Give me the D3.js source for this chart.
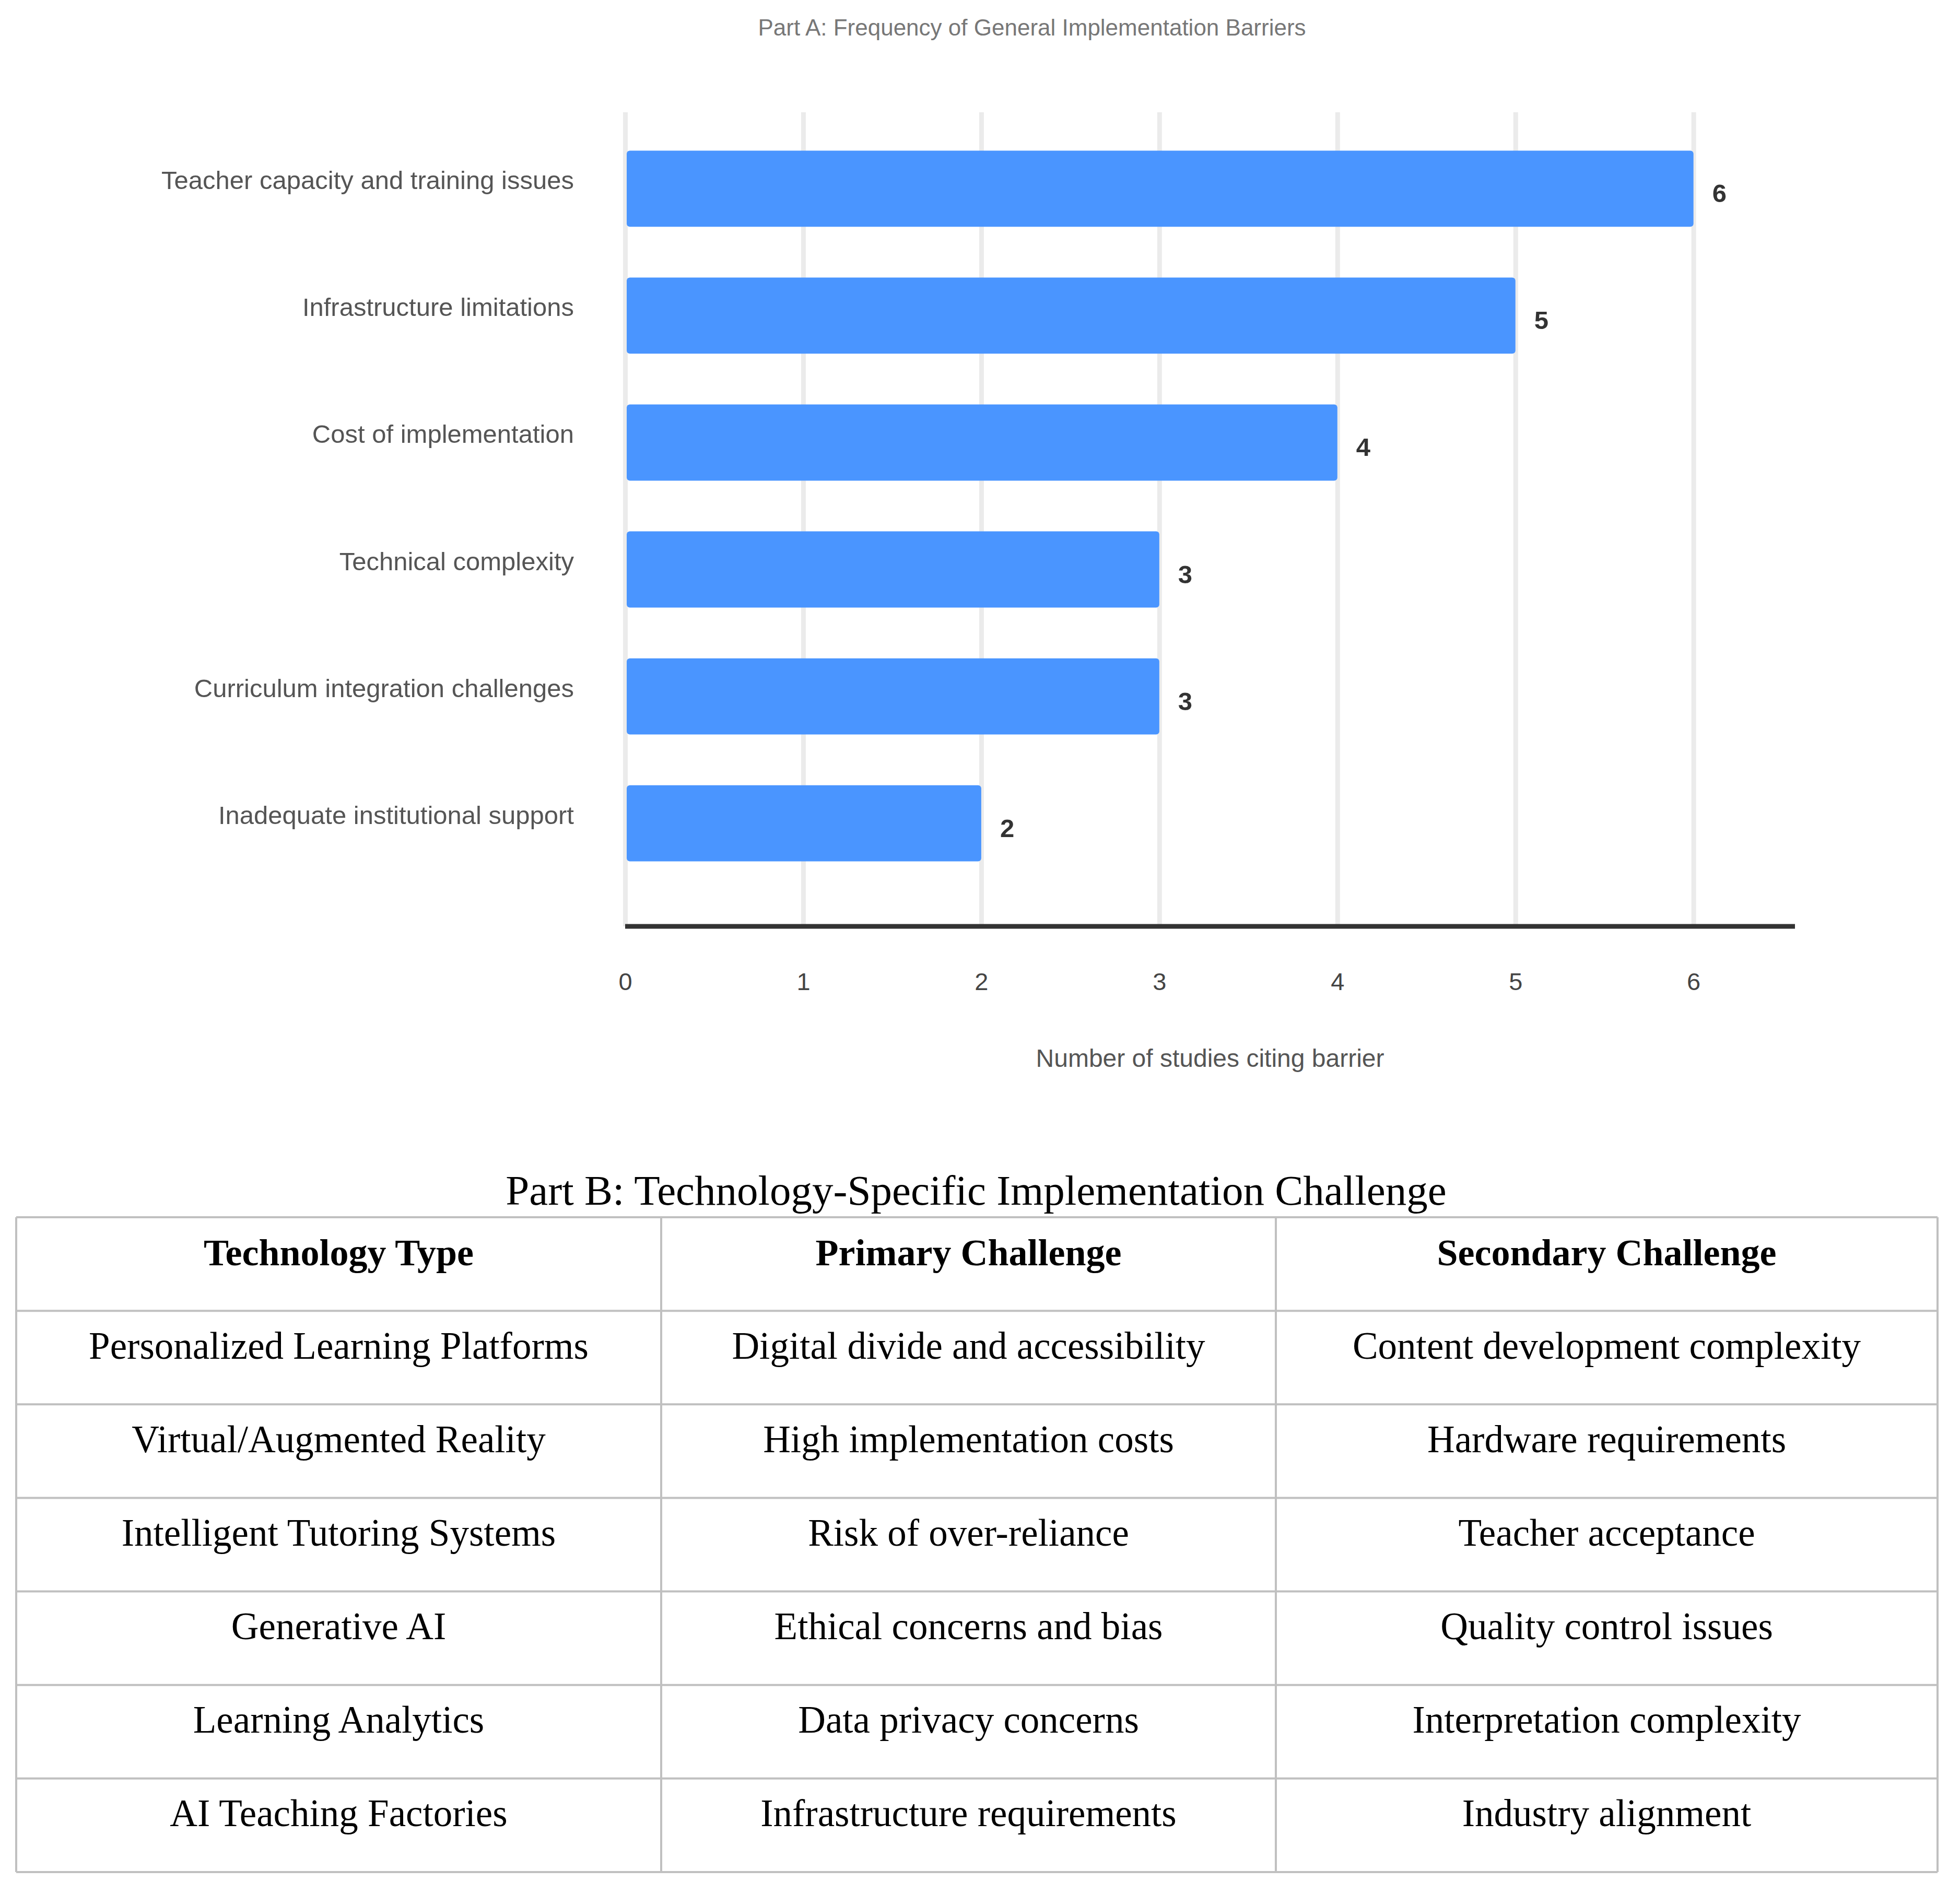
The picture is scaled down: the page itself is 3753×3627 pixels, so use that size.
<!DOCTYPE html>
<html>
<head>
<meta charset="utf-8">
<script src="https://cdn.jsdelivr.net/npm/d3@7"></script>
<style>
  html, body { margin: 0; padding: 0; background: #ffffff; }
  svg { display: block; }
</style>
</head>
<body>
<script>
// ---------- DATA ----------
const barrierCategories = [
  "Teacher capacity and training issues",
  "Infrastructure limitations",
  "Cost of implementation",
  "Technical complexity",
  "Curriculum integration challenges",
  "Inadequate institutional support"
];
const barrierCounts = [6, 5, 4, 3, 3, 2];
const xTickValues = [0, 1, 2, 3, 4, 5, 6];

const chartTitle = "Part A: Frequency of General Implementation Barriers";
const xAxisTitle = "Number of studies citing barrier";

const tableTitle = "Part B: Technology-Specific Implementation Challenge";
const tableHeaders = ["Technology Type", "Primary Challenge", "Secondary Challenge"];
const technologyTypes = [
  "Personalized Learning Platforms",
  "Virtual/Augmented Reality",
  "Intelligent Tutoring Systems",
  "Generative AI",
  "Learning Analytics",
  "AI Teaching Factories"
];
const primaryChallenges = [
  "Digital divide and accessibility",
  "High implementation costs",
  "Risk of over-reliance",
  "Ethical concerns and bias",
  "Data privacy concerns",
  "Infrastructure requirements"
];
const secondaryChallenges = [
  "Content development complexity",
  "Hardware requirements",
  "Teacher acceptance",
  "Quality control issues",
  "Interpretation complexity",
  "Industry alignment"
];

// ---------- LAYOUT ----------
const W = 3753, H = 3627;
const svg = d3.select("body").append("svg")
  .attr("width", W).attr("height", H)
  .attr("viewBox", `0 0 ${W} ${H}`);

const sans = "'Liberation Sans', Arial, Helvetica, sans-serif";
const serif = "'Liberation Serif', 'Times New Roman', serif";

const plotLeft = 1197, plotRight = 3437;
const gridTop = 215, axisY = 1774;

const x = d3.scaleLinear().domain([0, 6.57]).range([plotLeft, plotRight]);
const y = d3.scaleBand().domain(barrierCategories).range([167, 1771])
  .paddingInner(0.4).paddingOuter(0.5);

// Title
svg.append("text")
  .attr("x", 1976).attr("y", 68)
  .attr("text-anchor", "middle")
  .attr("font-family", sans).attr("font-size", 44)
  .attr("fill", "#777777")
  .text(chartTitle);

// Gridlines + tick labels
const xAxis = d3.axisBottom(x)
  .tickValues(xTickValues)
  .tickFormat(d3.format("d"))
  .tickSize(-(axisY - gridTop))
  .tickPadding(89);

const gx = svg.append("g")
  .attr("transform", `translate(0,${axisY})`)
  .call(xAxis);
gx.select(".domain").remove();
gx.selectAll(".tick line")
  .attr("stroke", "#ebebeb").attr("stroke-width", 9);
gx.selectAll(".tick text")
  .attr("font-family", sans).attr("font-size", 47)
  .attr("fill", "#444444");

// Bars
const data = barrierCategories.map((c, i) => ({ cat: c, val: barrierCounts[i] }));
svg.append("g").selectAll("rect")
  .data(data).join("rect")
  .attr("x", x(0) + 3)
  .attr("y", d => y(d.cat))
  .attr("width", d => x(d.val) - x(0) - 3)
  .attr("height", y.bandwidth())
  .attr("rx", 6).attr("ry", 6)
  .attr("fill", "#4a95ff");

// Value labels
svg.append("g").selectAll("text")
  .data(data).join("text")
  .attr("x", d => x(d.val) + 36)
  .attr("y", d => y(d.cat) + y.bandwidth() / 2 + 26)
  .attr("font-family", sans).attr("font-size", 49).attr("font-weight", "bold")
  .attr("fill", "#333333")
  .text(d => d.val);

// Category labels
svg.append("g").selectAll("text")
  .data(data).join("text")
  .attr("x", 1099)
  .attr("y", d => y(d.cat) + y.bandwidth() / 2 + 1)
  .attr("text-anchor", "end")
  .attr("font-family", sans).attr("font-size", 49)
  .attr("fill", "#555555")
  .text(d => d.cat);

// Axis baseline
svg.append("line")
  .attr("x1", plotLeft).attr("x2", plotRight)
  .attr("y1", axisY).attr("y2", axisY)
  .attr("stroke", "#333333").attr("stroke-width", 9);

// Axis title
svg.append("text")
  .attr("x", (plotLeft + plotRight) / 2).attr("y", 2043)
  .attr("text-anchor", "middle")
  .attr("font-family", sans).attr("font-size", 48)
  .attr("fill", "#555555")
  .text(xAxisTitle);

// ---------- TABLE ----------
const colEdges = [31, 1266, 2443, 3710];
const tableTop = 2331, tableBottom = 3585;
const rowsData = [tableHeaders].concat(
  technologyTypes.map((t, i) => [t, primaryChallenges[i], secondaryChallenges[i]])
);
const rowScale = d3.scaleBand().domain(d3.range(rowsData.length))
  .range([tableTop, tableBottom]);

svg.append("text")
  .attr("x", 1869).attr("y", 2307)
  .attr("text-anchor", "middle")
  .attr("font-family", serif).attr("font-size", 81)
  .attr("fill", "#000000")
  .text(tableTitle);

const tg = svg.append("g");
tg.selectAll("line.h")
  .data(d3.range(rowsData.length + 1)).join("line")
  .attr("class", "h")
  .attr("x1", colEdges[0]).attr("x2", colEdges[colEdges.length - 1])
  .attr("y1", i => i < rowsData.length ? rowScale(i) : tableBottom)
  .attr("y2", i => i < rowsData.length ? rowScale(i) : tableBottom)
  .attr("stroke", "#c0c0c0").attr("stroke-width", 4);
tg.selectAll("line.v")
  .data(colEdges).join("line")
  .attr("class", "v")
  .attr("x1", d => d).attr("x2", d => d)
  .attr("y1", tableTop).attr("y2", tableBottom)
  .attr("stroke", "#c0c0c0").attr("stroke-width", 4);

rowsData.forEach((row, ri) => {
  row.forEach((cell, ci) => {
    tg.append("text")
      .attr("x", (colEdges[ci] + colEdges[ci + 1]) / 2)
      .attr("y", rowScale(ri) + rowScale.bandwidth() / 2 + 2)
      .attr("text-anchor", "middle")
      .attr("font-family", serif).attr("font-size", ri === 0 ? 72 : 73)
      .attr("font-weight", ri === 0 ? "bold" : "normal")
      .attr("fill", "#000000")
      .text(cell);
  });
});
</script>
</body>
</html>
